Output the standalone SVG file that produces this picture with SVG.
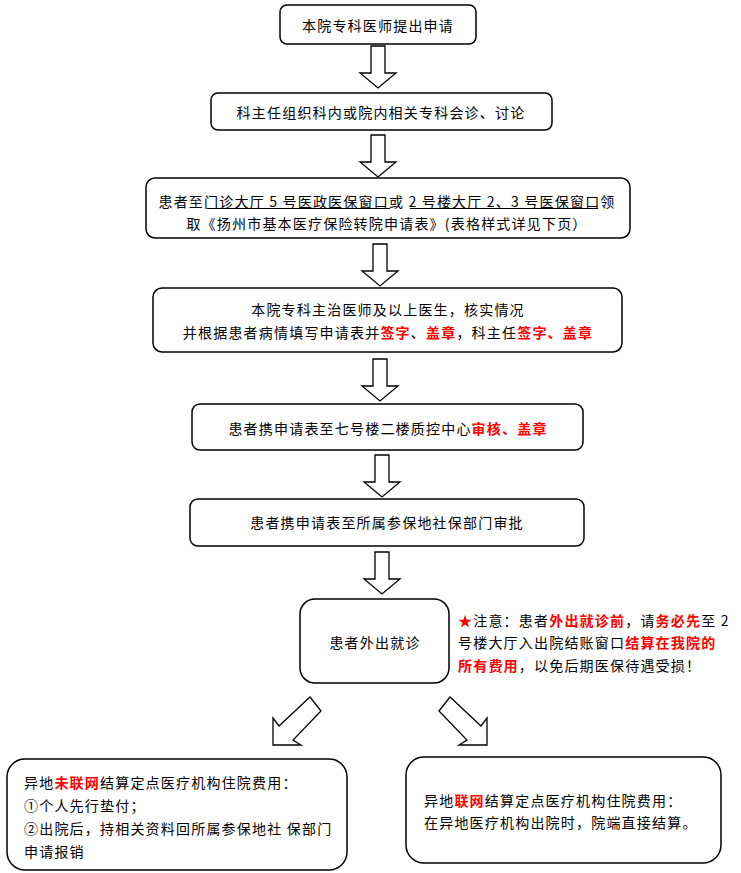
<svg xmlns="http://www.w3.org/2000/svg" width="741" height="873" viewBox="0 0 741 873">
<defs>
<style>
.box{fill:#fff;stroke:#000;stroke-width:1.5}
.arr{fill:#fff;stroke:#000;stroke-width:1.3;stroke-linejoin:miter}
text{font-family:"Noto Sans CJK SC","Noto Sans",sans-serif;font-size:14px;letter-spacing:1.2px;fill:#000;dominant-baseline:central}
.c{text-anchor:middle}
.r{fill:#f00;font-weight:bold}
.u{fill:none;stroke:#000;stroke-width:1}
</style>
<path id="down" d="M-7,0 H7 V27 H18 L0,42 L-18,27 H-7 Z"/>
</defs>
<rect width="741" height="873" fill="#fff"/>
<g id="connectors">
<use href="#down" class="arr" x="378" y="46"/>
<use href="#down" class="arr" x="378" y="135"/>
<use href="#down" class="arr" x="380" y="244"/>
<use href="#down" class="arr" x="380" y="359"/>
<use href="#down" class="arr" x="382" y="455"/>
<use href="#down" class="arr" x="382" y="552"/>
<path class="arr" d="M273,745 L273,718 L279,726 L310,697 L321,711 L293,740 L301,745 Z"/>
<path class="arr" d="M487,745 L487,718 L481,726 L450,697 L439,711 L467,740 L459,745 Z"/>
</g>
<g id="n1">
<rect class="box" x="280" y="5" width="196" height="39" rx="7"/>
<text class="c" x="378" y="25">本院专科医师提出申请</text>
</g>
<g id="n2">
<rect class="box" x="211" y="93" width="341" height="37" rx="7"/>
<text class="c" x="381" y="112">科主任组织科内或院内相关专科会诊、讨论</text>
</g>
<g id="n3">
<rect class="box" x="146" y="178" width="484" height="60" rx="9"/>
<text class="c" x="387" y="201">患者至门诊大厅 5 号医政医保窗口或 2 号楼大厅 2、3 号医保窗口领</text>
<text class="c" x="387" y="223">取《扬州市基本医疗保险转院申请表》(表格样式详见下页）</text>
<path class="u" d="M207,208.5 H390 M410,208.5 H598"/>
</g>
<g id="n4">
<rect class="box" x="153" y="288" width="469" height="64" rx="9"/>
<text class="c" x="388" y="309">本院专科主治医师及以上医生，核实情况</text>
<text class="c" x="388" y="332">并根据患者病情填写申请表并<tspan class="r">签字</tspan>、<tspan class="r">盖章</tspan>，科主任<tspan class="r">签字、盖章</tspan></text>
</g>
<g id="n5">
<rect class="box" x="192" y="404" width="391" height="46" rx="8"/>
<text class="c" x="388" y="428">患者携申请表至七号楼二楼质控中心<tspan class="r">审核、盖章</tspan></text>
</g>
<g id="n6">
<rect class="box" x="190" y="499" width="394" height="47" rx="8"/>
<text class="c" x="387" y="522">患者携申请表至所属参保地社保部门审批</text>
</g>
<g id="n7">
<rect class="box" x="300" y="599" width="149" height="84" rx="15"/>
<text class="c" x="375" y="642">患者外出就诊</text>
</g>
<g id="note">
<text x="458" y="620"><tspan fill="#f00">★</tspan>注意：患者<tspan class="r">外出就诊前</tspan>，请<tspan class="r">务必先</tspan>至 2</text>
<text x="458" y="642">号楼大厅入出院结账窗口<tspan class="r">结算在我院的</tspan></text>
<text x="458" y="665"><tspan class="r">所有费用</tspan>，以免后期医保待遇受损！</text>
</g>
<g id="n8">
<rect class="box" x="7" y="759" width="340" height="111" rx="18"/>
<text x="24" y="782">异地<tspan class="r">未联网</tspan>结算定点医疗机构住院费用：</text>
<text x="24" y="805">①个人先行垫付；</text>
<text x="24" y="828">②出院后，持相关资料回所属参保地社 保部门</text>
<text x="24" y="851">申请报销</text>
</g>
<g id="n9">
<rect class="box" x="406" y="757" width="315" height="106" rx="18"/>
<text x="424" y="800">异地<tspan class="r">联网</tspan>结算定点医疗机构住院费用：</text>
<text x="424" y="822">在异地医疗机构出院时，院端直接结算。</text>
</g>
</svg>
